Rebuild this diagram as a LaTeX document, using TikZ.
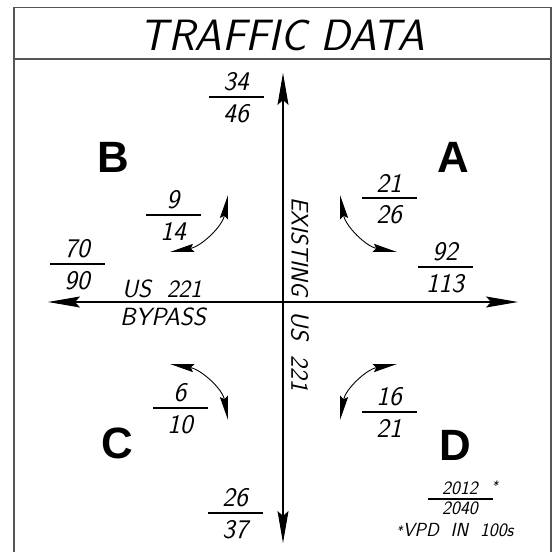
\documentclass[tikz,border=0pt]{standalone}
\usepackage{fontspec}
\usetikzlibrary{arrows.meta}
\newfontfamily\zonefont{Liberation Sans}
\newcommand{\cadfont}{\sffamily\itshape}
\definecolor{framegray}{RGB}{85,85,85}
\tikzset{
    frame/.style={draw=framegray, line width=1.6bp},
    road/.style={{Stealth[length=32bp,width=11bp,inset=5bp]}-{Stealth[length=32bp,width=11bp,inset=5bp]}, line width=1.1bp},
    turn/.style={{Stealth[length=24bp,width=8bp,inset=3bp]}-{Stealth[length=24bp,width=8bp,inset=3bp]}, line width=0.9bp},
    bar/.style={rectangle, fill=black, inner sep=0pt, minimum width=55bp, minimum height=1.1bp},
    num/.style={font=\cadfont\fontsize{27}{27}\selectfont, inner sep=0pt},
    roadname/.style={font=\cadfont\fontsize{25}{25}\selectfont, inner sep=0pt},
    note/.style={font=\cadfont\fontsize{19}{19}\selectfont, inner sep=0pt},
    title/.style={font=\cadfont\fontsize{44}{44}\selectfont, inner sep=0pt},
    zone/.style={font=\zonefont\bfseries\fontsize{44}{44}\selectfont, inner sep=0pt},
    vpd/.style 2 args={bar, label={[num,label distance=5bp]above:#1}, label={[num,label distance=6bp]below:#2}},
}
\begin{document}
\begin{tikzpicture}[x=1bp, y=1bp]
    \useasboundingbox (0,0) rectangle (555,552);
    % frame and title
    \draw[frame] (14,-2) -- (14,544.5) -- (551,544.5) -- (551,-2);
    \draw[frame] (14,493) -- (551,493);
    \node[title] (title) at (282.5,517) {TRAFFIC DATA};

    % roads
    \coordinate (N) at (283,479);
    \coordinate (S) at (283,9);
    \coordinate (W) at (48,250);
    \coordinate (E) at (518,250);
    \draw[road] (S) -- (N);
    \draw[road] (W) -- (E);
    \node[roadname] (us1) at (162,263) {US\ \ 221};
    \node[roadname] (bypass) at (163,235) {BYPASS};
    \node[roadname, font=\cadfont\fontsize{24}{24}\selectfont, rotate=-90] (exist) at (300,305) {EXISTING};
    \node[roadname, rotate=-90] (us2) at (300,201) {US\ \ 221};

    % quadrants
    \node[zone] (zA) at (453,395) {A};
    \node[zone] (zB) at (113,395) {B};
    \node[zone] (zC) at (117,109) {C};
    \node[zone] (zD) at (455,107) {D};

    % turning movements
    \coordinate (bu) at (228,357);
    \coordinate (bl) at (170,300);
    \coordinate (au) at (340,357);
    \coordinate (ar) at (397,300);
    \coordinate (cd) at (228,132);
    \coordinate (cl) at (170,188);
    \coordinate (dd) at (340,132);
    \coordinate (dr) at (397,188);
    \draw[turn] (bu) to[out=260, in=10] (bl);
    \draw[turn] (au) to[out=280, in=170] (ar);
    \draw[turn] (cd) to[out=100, in=350] (cl);
    \draw[turn] (dd) to[out=80, in=190] (dr);

    % volumes
    \node[vpd={34}{46}] (v34) at (236,455) {};
    \node[vpd={9}{14}] (v9) at (173,337) {};
    \node[vpd={70}{90}] (v70) at (77,288) {};
    \node[vpd={21}{26}] (v21) at (389,354) {};
    \node[vpd={92}{113}] (v92) at (445,285) {};
    \node[vpd={6}{10}] (v6) at (180,144) {};
    \node[vpd={16}{21}] (v16) at (389,140) {};
    \node[vpd={26}{37}] (v26) at (235,39) {};

    % legend
    \node[bar, minimum width=65bp,
        label={[note,label distance=3bp]above:2012\rlap{\hspace{14bp}\raisebox{4bp}{\fontsize{13}{13}\selectfont *}}},
        label={[note,label distance=2bp]below:2040}] (key) at (460,53) {};
    \node[note] (unit) at (455,22) {\raisebox{1bp}{\fontsize{13}{13}\selectfont *}VPD\ \ IN\ \ 100s};
\end{tikzpicture}
\end{document}
